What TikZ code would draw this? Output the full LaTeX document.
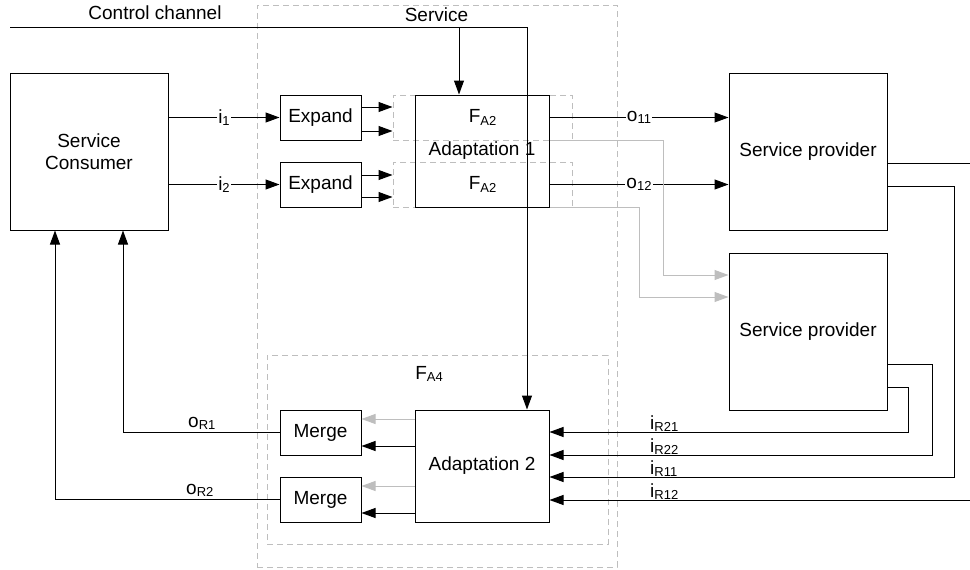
\documentclass[tikz,border=0pt]{standalone}
\usepackage{fontspec}
\setmainfont{Liberation Sans}
\usetikzlibrary{arrows.meta}
\definecolor{lgray}{RGB}{190,190,190}
\newcommand\lsub[1]{\raisebox{-2.5pt}{\fontsize{13}{15}\selectfont #1}}
\begin{document}
\begin{tikzpicture}[x=1pt,y=-1pt,
  font=\fontsize{19}{22}\selectfont,
  box/.style={draw, line width=1pt, inner sep=0pt, align=center},
  dbox/.style={draw=lgray, dash pattern=on 6pt off 4pt, line width=1pt, inner sep=0pt},
  ln/.style={line width=1pt},
  arr/.style={-{Triangle[length=14pt,width=10pt]}, line width=1pt},
  garr/.style={arr, draw=lgray, -{Triangle[length=14pt,width=10pt,fill=lgray]}},
  lab/.style={fill=white, inner sep=1pt},
  rl/.style={anchor=base west, inner sep=0pt}]
\useasboundingbox (0,0) rectangle (970,570);

% dashed frames
\node[dbox, minimum width=360pt, minimum height=562pt] (svc) at (437,286) {};
\node[dbox, minimum width=341pt, minimum height=189pt] (fa4) at (437.5,449.5) {};
\node[dbox, minimum width=179pt, minimum height=45pt] (fa2a) at (482.5,117.5) {F\lsub{A2}};
\node[dbox, minimum width=179pt, minimum height=45pt] (fa2b) at (482.5,184.5) {F\lsub{A2}};

% titles
\node (cctl) at (155,12.5) {Control channel};
\node (svct) at (436.5,15) {Service};
\node (fa4t) at (429,374) {F\lsub{A4}};

% solid boxes
\node[box, minimum width=158pt, minimum height=157pt] (cons) at (89,151.5) {Service\\Consumer};
\node[box, minimum width=81pt, minimum height=45pt] (exp1) at (320.5,117.5) {Expand};
\node[box, minimum width=81pt, minimum height=45pt] (exp2) at (320.5,184.5) {Expand};
\node[box, minimum width=134pt, minimum height=112pt] (ad1) at (482,151) {Adaptation 1};
\node[box, minimum width=158pt, minimum height=157pt] (sp1) at (808,151.5) {Service provider};
\node[box, minimum width=158pt, minimum height=157pt] (sp2) at (808,331.5) {Service provider};
\node[box, minimum width=134pt, minimum height=112pt] (ad2) at (482,466) {Adaptation 2};
\node[box, minimum width=81pt, minimum height=45pt] (mer1) at (320.5,432.5) {Merge};
\node[box, minimum width=81pt, minimum height=45pt] (mer2) at (320.5,499.5) {Merge};

% control channel
\coordinate (ccs) at (10,27);
\coordinate (cct) at (527,27);
\coordinate (ccb) at (459,27);
\draw[ln] (ccs) -- (cct);
\draw[arr] (cct) -- (cct |- ad2.north);
\draw[arr] (ccb) -- (ccb |- ad1.north);

% consumer -> expand
\draw[arr] (cons.east |- exp1.west) -- node[lab] (li1) {i\lsub{1}} (exp1.west);
\draw[arr] (cons.east |- exp2.west) -- node[lab] (li2) {i\lsub{2}} (exp2.west);

% expand -> FA2
\coordinate (e1a) at ([yshift=10.5pt]exp1.east);
\coordinate (e1b) at ([yshift=-13.5pt]exp1.east);
\coordinate (e2a) at ([yshift=9.5pt]exp2.east);
\coordinate (e2b) at ([yshift=-12.5pt]exp2.east);
\draw[arr] (e1a) -- (e1a -| fa2a.west);
\draw[arr] (e1b) -- (e1b -| fa2a.west);
\draw[arr] (e2a) -- (e2a -| fa2b.west);
\draw[arr] (e2b) -- (e2b -| fa2b.west);

% adaptation 1 -> providers
\draw[arr] (ad1.east |- fa2a.center) -- node[lab] (lo11) {o\lsub{11}} (sp1.west |- fa2a.center);
\draw[arr] (ad1.east |- fa2b.center) -- node[lab] (lo12) {o\lsub{12}} (sp1.west |- fa2b.center);
\coordinate (g1) at (663,275);
\coordinate (g2) at (639,297);
\draw[garr] (fa2a.south -| ad1.east) -| (g1) -- (g1 -| sp2.west);
\draw[garr] (fa2b.south -| ad1.east) -| (g2) -- (g2 -| sp2.west);

% provider outputs
\coordinate (p0) at ([yshift=-11.5pt]sp1.east);
\coordinate (p0e) at (970,163);
\draw[ln] (p0) -- (p0 -| p0e);
\coordinate (p11) at ([yshift=-34.5pt]sp1.east);
\coordinate (p22) at ([yshift=-32.5pt]sp2.east);
\coordinate (p21) at ([yshift=-55.5pt]sp2.east);
\coordinate (q21) at ([yshift=34pt]ad2.east);
\coordinate (q22) at ([yshift=11pt]ad2.east);
\coordinate (q11) at ([yshift=-11pt]ad2.east);
\coordinate (q12) at ([yshift=-34pt]ad2.east);
\coordinate (k11) at (954,0);
\coordinate (k22) at (932,0);
\coordinate (k21) at (908,0);
\coordinate (r12) at (970,500);
\draw[arr] (p21) -| (k21 |- q21) -- (q21);
\draw[arr] (p22) -| (k22 |- q22) -- (q22);
\draw[arr] (p11) -| (k11 |- q11) -- (q11);
\draw[arr] (r12) -- (r12 -| ad2.east);
\node[rl] (liR21) at (650,429) {i\lsub{R21}};
\node[rl] (liR22) at (650,452) {i\lsub{R22}};
\node[rl] (liR11) at (650,474) {i\lsub{R11}};
\node[rl] (liR12) at (650,497) {i\lsub{R12}};

% adaptation 2 -> merge
\coordinate (a1g) at ([yshift=47pt]ad2.west);
\coordinate (a1b) at ([yshift=20pt]ad2.west);
\coordinate (a2g) at ([yshift=-20pt]ad2.west);
\coordinate (a2b) at ([yshift=-47pt]ad2.west);
\draw[garr] (a1g) -- (a1g -| mer1.east);
\draw[arr] (a1b) -- (a1b -| mer1.east);
\draw[garr] (a2g) -- (a2g -| mer2.east);
\draw[arr] (a2b) -- (a2b -| mer2.east);

% merge -> consumer
\coordinate (m1) at (123,0);
\coordinate (m2) at (55,0);
\draw[arr] (mer1.west) -| (m1 |- cons.south);
\draw[arr] (mer2.west) -| (m2 |- cons.south);
\node[rl] (loR1) at (188,427) {o\lsub{R1}};
\node[rl] (loR2) at (186,494) {o\lsub{R2}};
\end{tikzpicture}
\end{document}
